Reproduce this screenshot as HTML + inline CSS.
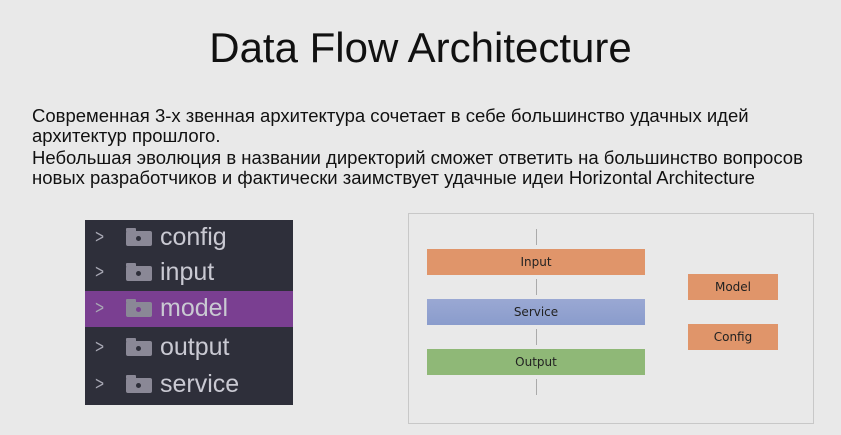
<!DOCTYPE html>
<html><head><meta charset="utf-8"><style>
body{margin:0;width:841px;height:435px;background:#e9e9e9;position:relative;overflow:hidden;font-family:"Liberation Sans",sans-serif}
.a{position:absolute}
h1{position:absolute;left:0;width:841px;top:24px;margin:0;text-align:center;font-weight:normal;font-size:42px;color:#111}
.p{left:32px;top:106px;font-size:18.5px;line-height:20px;color:#111;white-space:nowrap}
.tree{left:85px;top:220px;width:208px;height:185px;background:#2e2f3a}
.row{position:absolute;left:0;width:208px;height:36px}
.row .c{position:absolute;left:9px;top:7px;color:#a8a8b4;font-size:19px;transform:scaleX(.8)}
.row .f{position:absolute;left:41px;top:11px;width:26px;height:15px;background:#8a8896;border-radius:2px}
.row .f:before{content:"";position:absolute;left:0;top:-3px;width:10px;height:4px;background:#8a8896;border-radius:1px}
.row .f:after{content:"";position:absolute;left:10px;top:5px;width:5px;height:5px;background:#2e2f3a;border-radius:50%}
.row .t{position:absolute;left:75px;top:3px;font-size:25px;color:#c9c9d2}
.sel{background:#7a3f91}
.sel .f:after{background:#7a3f91}
.box{border:1px solid #c8c8c8;left:408px;top:213px;width:404px;height:209px;background:#e9e9e9}
.b{position:absolute;font-family:"DejaVu Sans",sans-serif;font-size:12px;color:#222;text-align:center;line-height:26px;height:26px}
.ar{position:absolute;left:536px;width:1px;background:#aaa}
</style></head><body>
<h1>Data Flow Architecture</h1>
<div class="a p">Современная 3-х звенная архитектура сочетает в себе большинство удачных идей<br>архитектур прошлого.<br><span style="position:relative;top:2px">Небольшая эволюция в названии директорий сможет ответить на большинство вопросов<br>новых разработчиков и фактически заимствует удачные идеи Horizontal Architecture</span></div>
<div class="a tree">
<div class="row" style="top:0"><span class="c">&gt;</span><span class="f"></span><span class="t">config</span></div>
<div class="row" style="top:35px"><span class="c">&gt;</span><span class="f"></span><span class="t">input</span></div>
<div class="row sel" style="top:71px"><span class="c">&gt;</span><span class="f"></span><span class="t">model</span></div>
<div class="row" style="top:110px"><span class="c">&gt;</span><span class="f"></span><span class="t">output</span></div>
<div class="row" style="top:147px"><span class="c">&gt;</span><span class="f"></span><span class="t">service</span></div>
</div>
<div class="a box"></div>
<div class="ar" style="top:229px;height:16px"></div>
<div class="ar" style="top:279px;height:16px"></div>
<div class="ar" style="top:329px;height:16px"></div>
<div class="ar" style="top:379px;height:16px"></div>
<div class="b" style="left:427px;top:249px;width:218px;background:#e0956a">Input</div>
<div class="b" style="left:427px;top:299px;width:218px;background:linear-gradient(#9aa8d3,#8a9ccc)">Service</div>
<div class="b" style="left:427px;top:349px;width:218px;background:#8fb877">Output</div>
<div class="b" style="left:688px;top:274px;width:90px;background:#e0956a">Model</div>
<div class="b" style="left:688px;top:324px;width:90px;background:#e0956a">Config</div>
</body></html>
